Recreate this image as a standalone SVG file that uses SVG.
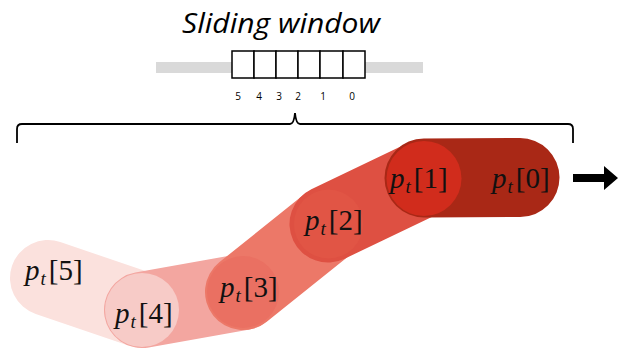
<svg xmlns="http://www.w3.org/2000/svg" width="618" height="350" viewBox="0 0 618 350">
<style>
.cap{fill:none;stroke-linecap:round}
.lbl{font-family:"Liberation Serif","DejaVu Serif",serif;font-size:29px;fill:#111}
.it{font-style:italic}
.sub{font-style:italic;font-size:19px}
.cell{fill:#fff;stroke:#000;stroke-width:1.5}
.dig{font-family:"Open Sans","Liberation Sans",sans-serif;font-size:10px;fill:#000;text-anchor:middle}
</style>
<rect width="618" height="350" fill="#fff"/>
<g id="window">
<text x="182" y="33" font-family="'Open Sans','Liberation Sans',sans-serif" font-style="italic" font-size="28" textLength="198" lengthAdjust="spacingAndGlyphs" fill="#000">Sliding window</text>
<rect x="156" y="62" width="267" height="11" fill="#d9d9d9"/>
<rect class="cell" x="232" y="51" width="22" height="27"/>
<rect class="cell" x="254" y="51" width="22" height="27"/>
<rect class="cell" x="276" y="51" width="22" height="27"/>
<rect class="cell" x="298" y="51" width="22" height="27"/>
<rect class="cell" x="320" y="51" width="23" height="27"/>
<rect class="cell" x="343" y="51" width="22" height="27"/>
<text class="dig" x="238" y="100">5</text>
<text class="dig" x="259" y="100">4</text>
<text class="dig" x="279" y="100">3</text>
<text class="dig" x="298" y="100">2</text>
<text class="dig" x="323" y="100">1</text>
<text class="dig" x="352" y="100">0</text>
<path d="M17,143 L17,129 Q17,124 22,124 L290,124 Q294,124 295,113 Q296,124 300,124 L568,124 Q573,124 573,129 L573,143" fill="none" stroke="#000" stroke-width="1.8"/>
</g>
<g id="connectors">
<line class="cap" x1="48" y1="278" x2="142" y2="310" stroke="#fbe1dd" stroke-width="76"/>
<line class="cap" x1="142" y1="310" x2="243" y2="292" stroke="#f3a6a0" stroke-width="76"/>
<line class="cap" x1="243" y1="292" x2="328" y2="224" stroke="#ec7868" stroke-width="76"/>
<line class="cap" x1="328" y1="224" x2="424" y2="178" stroke="#de5042" stroke-width="77"/>
<line class="cap" x1="424" y1="178" x2="520" y2="177.5" stroke="#a92816" stroke-width="79"/>
<path d="M573,174 L604,174 L604,166 L618,178 L604,190 L604,182 L573,182 Z" fill="#000"/>
</g>
<g id="p5"><text class="lbl" x="25" y="280"><tspan class="it">p</tspan><tspan class="sub" dx="1" dy="5">t</tspan><tspan dx="3" dy="-5">[5]</tspan></text></g>
<g id="p4"><circle cx="142" cy="310" r="37" fill="#f7cbc7"/><text class="lbl" x="115" y="323"><tspan class="it">p</tspan><tspan class="sub" dx="1" dy="5">t</tspan><tspan dx="3" dy="-5">[4]</tspan></text></g>
<g id="p3"><circle cx="243" cy="292" r="36" fill="#ea7062"/><text class="lbl" x="220" y="297"><tspan class="it">p</tspan><tspan class="sub" dx="1" dy="5">t</tspan><tspan dx="3" dy="-5">[3]</tspan></text></g>
<g id="p2"><circle cx="328.5" cy="224" r="34.5" fill="#e15545"/><text class="lbl" x="305" y="230"><tspan class="it">p</tspan><tspan class="sub" dx="1" dy="5">t</tspan><tspan dx="3" dy="-5">[2]</tspan></text></g>
<g id="p1"><circle cx="424" cy="178.5" r="37.5" fill="#d12c1c"/><text class="lbl" x="390" y="188"><tspan class="it">p</tspan><tspan class="sub" dx="1" dy="5">t</tspan><tspan dx="3" dy="-5">[1]</tspan></text></g>
<g id="p0"><text class="lbl" x="492" y="188"><tspan class="it">p</tspan><tspan class="sub" dx="1" dy="5">t</tspan><tspan dx="3" dy="-5">[0]</tspan></text></g>
</svg>
